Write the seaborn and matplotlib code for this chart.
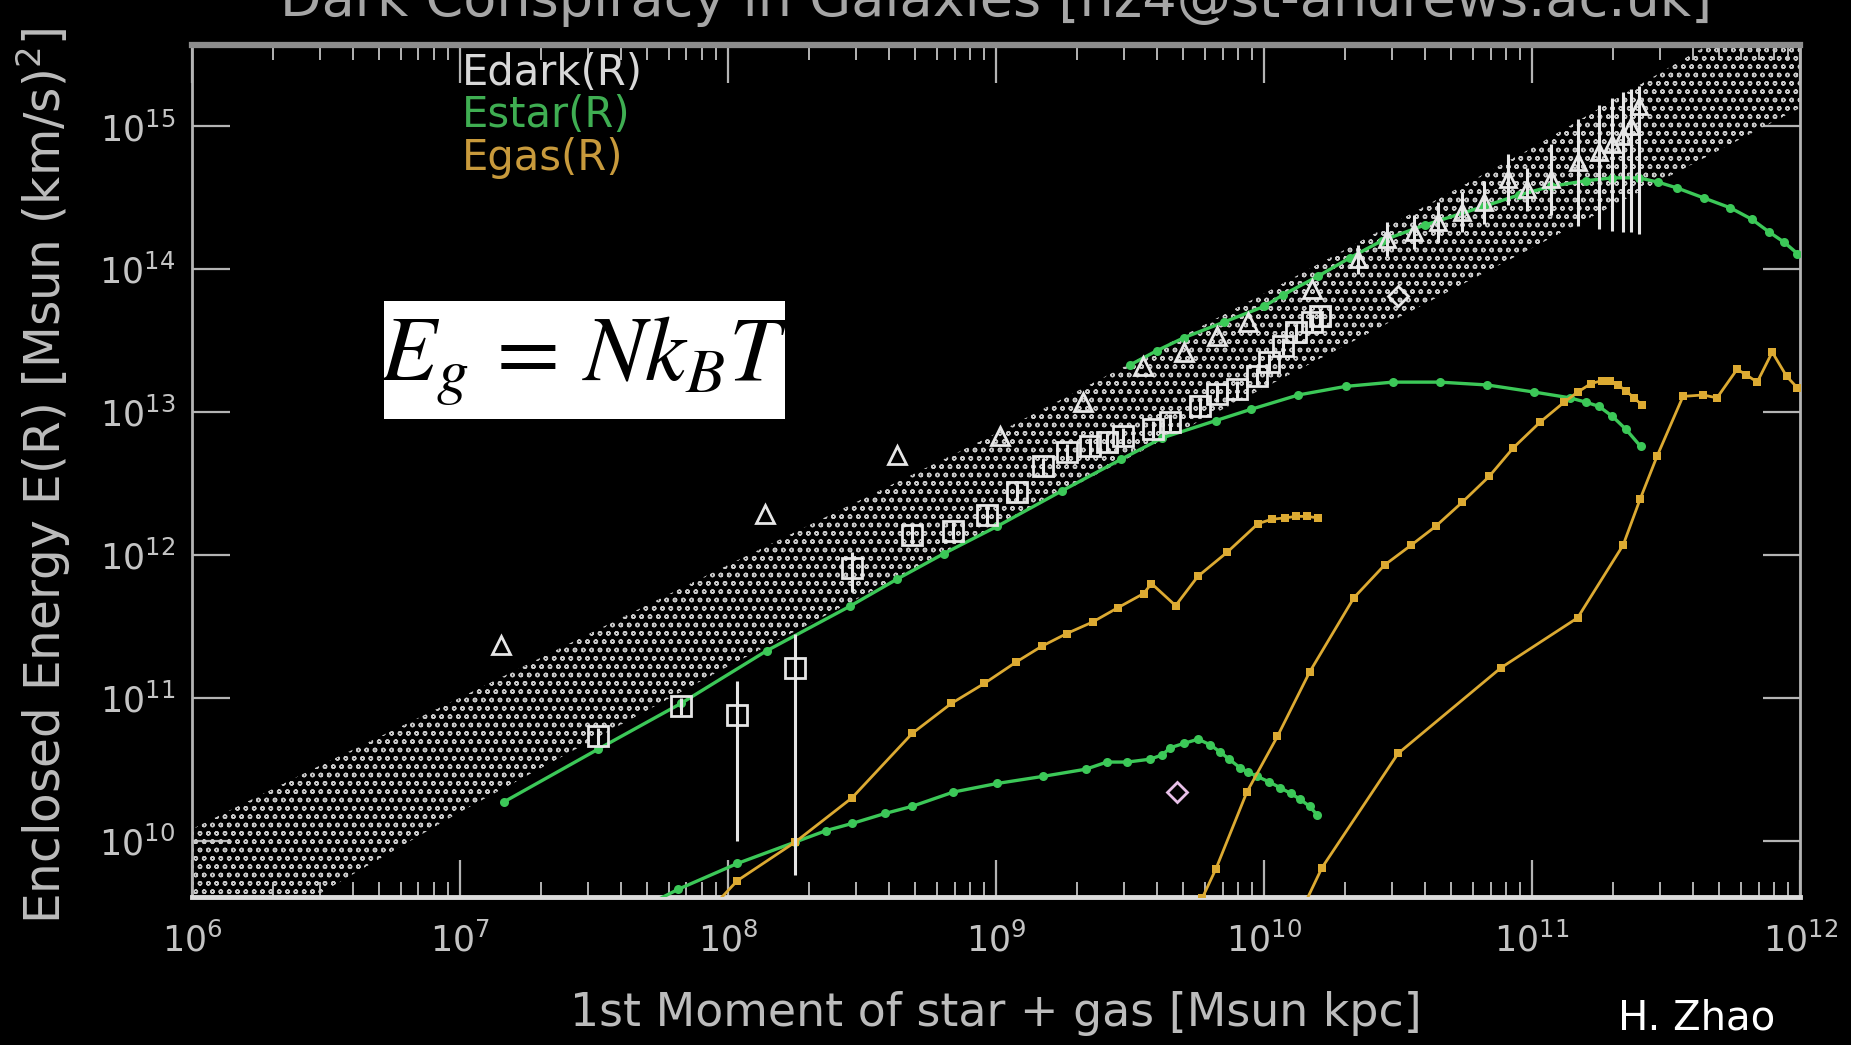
import numpy as np
import pandas as pd
import matplotlib
matplotlib.use("Agg")
import matplotlib.pyplot as plt
from matplotlib.patches import Rectangle
from matplotlib.ticker import NullLocator, NullFormatter, LogLocator
import seaborn as sns

# ---------------- data (log10 of x = 1st moment, log10 of y = energy) ----------------
# dark-halo band
band_logx = [6.0, 6.45, 7.0, 8.0, 9.0, 10.0, 11.0, 12.0]
band_hi = [10.08, 10.50, 11.00, 11.93, 12.85, 13.83, 14.85, 15.95]
band_lo = [9.10, 9.60, 10.20, 11.22, 12.20, 13.17, 14.15, 15.13]

# Edark: triangles
tri_logx = [7.154, 8.137, 8.63, 9.015, 9.325, 9.55, 9.70, 9.825, 9.94, 10.18]
tri_logy = [11.37, 12.29, 12.70, 12.83, 13.07, 13.32, 13.42, 13.53, 13.63, 13.86]

# Edark: triangles with vertical error bars (massive galaxy)
tre_logx = [10.35, 10.46, 10.56, 10.65, 10.74, 10.82, 10.91, 10.98, 11.07, 11.17,
            11.25, 11.30, 11.34, 11.37, 11.40]
tre_logy = [14.07, 14.21, 14.26, 14.33, 14.40, 14.47, 14.63, 14.56, 14.63, 14.75,
            14.82, 14.88, 14.93, 15.00, 15.14]
tre_lo = [13.97, 14.09, 14.14, 14.19, 14.26, 14.32, 14.45, 14.41, 14.38, 14.30,
          14.28, 14.27, 14.26, 14.26, 14.25]
tre_hi = [14.17, 14.33, 14.38, 14.47, 14.54, 14.62, 14.81, 14.71, 14.88, 15.05,
          15.15, 15.20, 15.24, 15.26, 15.28]

# Edark: squares
sq_logx = [7.515, 7.824, 8.035, 8.251, 8.463, 8.687, 8.841, 8.965, 9.079, 9.175,
           9.265, 9.35, 9.414, 9.475, 9.586, 9.65, 9.76, 9.825, 9.90, 9.974,
           10.02, 10.07, 10.12, 10.18, 10.21]
sq_logy = [10.73, 10.94, 10.88, 11.21, 11.91, 12.14, 12.17, 12.28, 12.44, 12.62,
           12.72, 12.76, 12.79, 12.83, 12.88, 12.93, 13.04, 13.13, 13.16, 13.25,
           13.35, 13.46, 13.56, 13.63, 13.67]
sq_lo = [10.67, 10.88, 10.00, 9.76, 11.74, 12.08, 12.11, 12.22, 12.38, 12.56,
         12.66, 12.70, 12.73, 12.77, 12.82, 12.87, 12.98, 13.07, 13.10, 13.19,
         13.29, 13.40, 13.50, 13.57, 13.61]
sq_hi = [10.79, 11.00, 11.12, 11.45, 12.02, 12.20, 12.23, 12.34, 12.50, 12.68,
         12.78, 12.82, 12.85, 12.89, 12.94, 12.99, 13.10, 13.19, 13.22, 13.31,
         13.41, 13.52, 13.62, 13.69, 13.73]

# Edark: diamonds
dia_logx = [10.50, 9.675]
dia_logy = [13.81, 10.34]

# Estar curves
g1_logx = [7.163, 7.515, 7.824, 8.145, 8.454, 8.63, 8.806, 9.004, 9.247, 9.467,
           9.621, 9.819, 9.952, 10.128, 10.304, 10.48, 10.656, 10.833, 11.009,
           11.141, 11.20, 11.25, 11.30, 11.35, 11.405]
g1_logy = [10.27, 10.64, 10.96, 11.33, 11.64, 11.83, 12.01, 12.20, 12.45, 12.67,
           12.82, 12.94, 13.02, 13.12, 13.18, 13.21, 13.21, 13.19, 13.14,
           13.10, 13.07, 13.04, 12.97, 12.88, 12.76]

g3_logx = [9.50, 9.60, 9.70, 9.85, 10.0, 10.07, 10.2, 10.32, 10.44, 10.6, 10.82,
           10.95, 11.07, 11.2, 11.30, 11.40, 11.47, 11.54, 11.64, 11.74, 11.82,
           11.885, 11.94, 11.99]
g3_logy = [13.33, 13.43, 13.52, 13.63, 13.74, 13.82, 13.95, 14.08, 14.20, 14.31,
           14.44, 14.52, 14.58, 14.62, 14.64, 14.64, 14.61, 14.57, 14.50, 14.43,
           14.35, 14.26, 14.19, 14.11]

g4_logx = [7.70, 7.815, 8.035, 8.251, 8.366, 8.463, 8.586, 8.687, 8.841, 9.004,
           9.176, 9.335, 9.414, 9.49, 9.575, 9.62, 9.65, 9.70, 9.754, 9.80, 9.836,
           9.87, 9.91, 9.94, 9.974, 10.02, 10.06, 10.10, 10.134, 10.17, 10.198]
g4_logy = [9.55, 9.66, 9.84, 9.99, 10.07, 10.12, 10.19, 10.24, 10.34, 10.40,
           10.45, 10.50, 10.55, 10.55, 10.57, 10.60, 10.65, 10.68, 10.71, 10.67,
           10.62, 10.57, 10.51, 10.48, 10.45, 10.41, 10.37, 10.33, 10.29, 10.24,
           10.18]

# Egas curves
oa_logx = [7.95, 8.035, 8.251, 8.463, 8.687, 8.833, 8.956, 9.075, 9.17, 9.264,
           9.36, 9.454, 9.551, 9.58, 9.67, 9.753, 9.863, 9.978, 10.03, 10.08,
           10.12, 10.16, 10.20]
oa_logy = [9.55, 9.72, 9.99, 10.30, 10.75, 10.96, 11.10, 11.25, 11.36, 11.45,
           11.53, 11.63, 11.73, 11.80, 11.645, 11.85, 12.02, 12.22, 12.25, 12.26,
           12.27, 12.27, 12.26]

ob_logx = [9.77, 9.82, 9.936, 10.05, 10.17, 10.335, 10.45, 10.55, 10.64, 10.74,
           10.84, 10.93, 11.03, 11.12, 11.17, 11.22, 11.26, 11.29, 11.32, 11.35,
           11.38, 11.41]
ob_logy = [9.60, 9.80, 10.34, 10.73, 11.18, 11.70, 11.93, 12.07, 12.20, 12.37,
           12.55, 12.75, 12.93, 13.07, 13.14, 13.20, 13.22, 13.22, 13.19, 13.15,
           13.10, 13.05]

oc_logx = [10.15, 10.216, 10.50, 10.884, 11.17, 11.34, 11.403, 11.466, 11.563,
           11.638, 11.69, 11.765, 11.80, 11.84, 11.896, 11.95, 11.99]
oc_logy = [9.55, 9.81, 10.61, 11.21, 11.56, 12.07, 12.39, 12.69, 13.11, 13.12,
           13.10, 13.30, 13.26, 13.21, 13.42, 13.25, 13.17]

legend_labels = ["Edark(R)", "Estar(R)", "Egas(R)"]
title_text = "Dark Conspiracy in Galaxies [hz4@st-andrews.ac.uk]"
xlabel_text = "1st Moment of star + gas [Msun kpc]"
ylabel_text = "Enclosed Energy E(R) [Msun (km/s)$^2$]"
credit_text = "H. Zhao"


def p10(v):
    return np.power(10.0, np.asarray(v, dtype=float))


# ---------------- style ----------------
sns.set_theme(style="ticks")
plt.rcParams["font.family"] = ["DejaVu Sans"]
plt.rcParams["hatch.linewidth"] = 1.0

DARK = "#e6e6e6"
GREEN = "#3cc858"
ORANGE = "#dcaa32"
AXC = "#b4b4b4"

fig = plt.figure(figsize=(18.51, 10.45), dpi=100, facecolor="black")
ax = fig.add_axes([0.1037, 0.1416, 0.8688, 0.8153], facecolor="black")

# dotted dark-matter band
ax.fill_between(p10(band_logx), p10(band_lo), p10(band_hi), facecolor="none",
                edgecolor="#c8c8c8", hatch="oo", linewidth=0, zorder=1)

# Estar curves
for lx, ly in [(g1_logx, g1_logy), (g3_logx, g3_logy), (g4_logx, g4_logy)]:
    df = pd.DataFrame({"x": p10(lx), "y": p10(ly)})
    sns.lineplot(data=df, x="x", y="y", ax=ax, color=GREEN, linewidth=2.4,
                 marker="o", markersize=6.5, markeredgewidth=0, estimator=None,
                 sort=False, zorder=4)

# Egas curves
for lx, ly in [(oa_logx, oa_logy), (ob_logx, ob_logy), (oc_logx, oc_logy)]:
    df = pd.DataFrame({"x": p10(lx), "y": p10(ly)})
    sns.lineplot(data=df, x="x", y="y", ax=ax, color=ORANGE, linewidth=2.0,
                 marker="s", markersize=6, markeredgewidth=0, estimator=None,
                 sort=False, zorder=4)

# Edark error bars
ax.vlines(p10(sq_logx), p10(sq_lo), p10(sq_hi), colors=DARK, linewidth=2.2, zorder=5)
ax.vlines(p10(tre_logx), p10(tre_lo), p10(tre_hi), colors=DARK, linewidth=2.2, zorder=5)

# Edark markers
marker_sets = [
    (sq_logx, sq_logy, "s", 15, DARK),
    (tri_logx, tri_logy, "^", 13, DARK),
    (tre_logx, tre_logy, "^", 12, DARK),
    (dia_logx[:1], dia_logy[:1], "D", 10, DARK),
    (dia_logx[1:], dia_logy[1:], "D", 10, "#e8c0e8"),
]
for lx, ly, mk, ms, col in marker_sets:
    df = pd.DataFrame({"x": p10(lx), "y": p10(ly)})
    sns.lineplot(data=df, x="x", y="y", ax=ax, linestyle="", marker=mk,
                 markersize=ms, markerfacecolor="none", markeredgecolor=col,
                 markeredgewidth=2.0, estimator=None, sort=False, zorder=6)

# axes
ax.set_xscale("log")
ax.set_yscale("log")
ax.set_xlim(1e6, 1e12)
ax.set_ylim(p10(9.605), p10(15.57))
ax.set_xlabel("")
ax.set_ylabel("")
ax.yaxis.set_minor_locator(NullLocator())
ax.xaxis.set_minor_locator(LogLocator(base=10, subs=np.arange(2, 10)))
ax.xaxis.set_minor_formatter(NullFormatter())
ax.xaxis.set_major_locator(LogLocator(base=10, numticks=10))
ax.yaxis.set_major_locator(LogLocator(base=10, numticks=10))

ax.tick_params(axis="both", which="major", direction="in", length=27, width=1.6,
               color=AXC, labelcolor="#c4c4c4", labelsize=25,
               top=True, right=True)
ax.tick_params(axis="x", which="major", pad=18)
ax.tick_params(axis="y", which="major", pad=12)
ax.tick_params(axis="x", which="minor", direction="in", length=11, width=1.4,
               color=AXC, top=True, bottom=True)
for side in ["left", "right"]:
    ax.spines[side].set_color(AXC)
    ax.spines[side].set_linewidth(2.0)
ax.spines["bottom"].set_color("#dcdcdc")
ax.spines["bottom"].set_linewidth(3.5)
ax.spines["top"].set_color("#8c8c8c")
ax.spines["top"].set_linewidth(4.5)

# legend as colored text
for txt, col, yy in zip(legend_labels, ["#d8d8d8", "#3fae52", "#c89a3c"],
                        [0.9187, 0.8785, 0.8373]):
    fig.text(0.2497, yy, txt, color=col, fontsize=30, ha="left", va="baseline")

# labels and title
fig.text(0.538, 0.9847, title_text, color="#a6a6a6", fontsize=39,
         ha="center", va="baseline")
fig.text(0.538, 0.0306, xlabel_text, color="#bcbcbc", fontsize=33,
         ha="center", va="center")
fig.text(0.0235, 0.5445, ylabel_text, color="#bcbcbc", fontsize=35,
         ha="center", va="center", rotation=90)
fig.text(0.9168, 0.0249, credit_text, color="white", fontsize=29,
         ha="center", va="center")

# formula box
fig.patches.append(Rectangle((0.2075, 0.599), 0.2166, 0.113, transform=fig.transFigure,
                             facecolor="white", edgecolor="none", zorder=10))
fig.text(0.3158, 0.637, r"$E_g\,=\,Nk_BT$", color="black", fontsize=66,
         math_fontfamily="stix", ha="center", va="baseline", zorder=11)

fig.savefig("out.png", dpi=100, facecolor="black")
